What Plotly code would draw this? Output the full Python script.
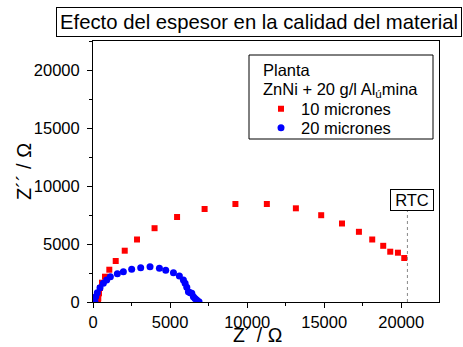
import plotly.graph_objects as go

# 10 micrones (red squares)
x10 = [325, 344, 390, 455, 584, 779, 1058, 1474, 2059, 2857, 3994, 5455, 7241, 9240,
       11280, 13164, 14806, 16157, 17254, 18117, 18831, 19286, 19786, 20195]
y10 = [0, 319, 750, 1207, 1664, 2181, 2784, 3534, 4422, 5388, 6362, 7327, 8017, 8448,
       8448, 8077, 7482, 6767, 6051, 5388, 4844, 4336, 4250, 3793]

# 20 micrones (blue circles)
x20 = [130, 175, 281, 455, 671, 888, 1126, 1580, 1970, 2510, 3095, 3700, 4310, 4720,
       5220, 5605, 5865, 5975, 6085, 6190, 6300, 6410, 6515, 6620, 6730, 6880]
y20 = [0, 457, 802, 1233, 1612, 1896, 2181, 2440, 2612, 2819, 2957, 3043, 2905, 2733,
       2526, 2241, 1896, 1612, 1267, 888, 800, 750, 457, 300, 172, 26]

rtc_x = 20400
rtc_y = 7850

tick_vals = [0, 5000, 10000, 15000, 20000]
title_text = "Efecto del espesor en la calidad del material"
legend_line1 = "Planta"
legend_line2 = "ZnNi + 20 g/l Al<sub>ú</sub>mina"
x_title = "Z´ / Ω"
y_title = "Z´´ / Ω"

FONT = "Liberation Sans, Arial, sans-serif"

fig = go.Figure()
fig.add_trace(go.Scatter(x=x10, y=y10, mode="markers", name="10 micrones", legend="legend",
                         marker=dict(symbol="square", size=6, color="#ff0000")))
fig.add_trace(go.Scatter(x=x20, y=y20, mode="markers", name="20 micrones", legend="legend2",
                         marker=dict(symbol="circle", size=7, color="#0000ff")))
fig.add_trace(go.Scatter(x=[rtc_x, rtc_x], y=[0, rtc_y], mode="lines", showlegend=False,
                         line=dict(color="#888888", width=1, dash="dot"), hoverinfo="skip"))

L, R, T, B = 93, 24, 41, 45
W, H = 463, 347
pw, ph = W - L - R, H - T - B


def px2paper(px, py):
    return (px - L) / pw, (H - B - py) / ph


axis_common = dict(
    tickvals=tick_vals, tickformat="d",
    ticks="outside", ticklen=5, tickcolor="black", showgrid=False, zeroline=False,
    showline=True, linecolor="black", linewidth=1, mirror=True, automargin=False,
    minor=dict(ticks="outside", ticklen=3, tickcolor="black", dtick=2500, tick0=0),
    tickfont=dict(size=16.5),
)

leg_common = dict(xanchor="left", yanchor="top", bgcolor="rgba(0,0,0,0)", borderwidth=0,
                  font=dict(size=16.5))

fig.update_layout(
    width=W, height=H,
    margin=dict(l=L, r=R, t=T, b=B),
    paper_bgcolor="white", plot_bgcolor="white",
    font=dict(family=FONT, size=16, color="black"),
    xaxis=dict(range=[0, 22450], **axis_common),
    yaxis=dict(range=[0, 22500], ticklabelstandoff=4, **axis_common),
    showlegend=True,
    legend=dict(x=px2paper(261, 0)[0], y=px2paper(0, 91.5)[1], **leg_common),
    legend2=dict(x=px2paper(261, 0)[0], y=px2paper(0, 110.5)[1], **leg_common),
)

# axis titles
ax_x, ax_y = px2paper(257, 347)
fig.add_annotation(text=x_title, xref="paper", yref="paper", x=ax_x, y=ax_y,
                   xanchor="center", yanchor="bottom", showarrow=False, borderpad=0,
                   font=dict(size=19.5, family=FONT))
ay_x, ay_y = px2paper(24, 172)
fig.add_annotation(text=y_title, xref="paper", yref="paper", x=ay_x, y=ay_y,
                   xanchor="center", yanchor="middle", showarrow=False, textangle=-90,
                   font=dict(size=20, family=FONT))

# legend border
x0, y0 = px2paper(249, 139)
x1, y1 = px2paper(433, 55)
fig.add_shape(type="rect", xref="paper", yref="paper", x0=x0, y0=y0, x1=x1, y1=y1,
              line=dict(color="black", width=1), fillcolor="rgba(0,0,0,0)")

# legend heading lines
for txt, py in [(legend_line1, 70), (legend_line2, 90)]:
    hx, hy = px2paper(261, py)
    fig.add_annotation(text=txt, xref="paper", yref="paper", x=hx, y=hy,
                       xanchor="left", yanchor="middle", showarrow=False,
                       font=dict(size=16.5, family=FONT))

# title box
tx, ty = px2paper(259, 21.5)
fig.add_annotation(text=title_text, xref="paper", yref="paper", x=tx, y=ty,
                   xanchor="center", yanchor="middle", showarrow=False,
                   font=dict(size=20.3, family=FONT), bordercolor="black", borderwidth=1,
                   borderpad=3, bgcolor="white")

# RTC label
fig.add_annotation(text="RTC", x=rtc_x, y=rtc_y, xref="x", yref="y", yanchor="bottom",
                   xanchor="center", xshift=5, showarrow=False, font=dict(size=16.5, family=FONT),
                   width=40, align="center",
                   bordercolor="black", borderwidth=1, borderpad=1, bgcolor="white")

fig.write_html("out.html")
